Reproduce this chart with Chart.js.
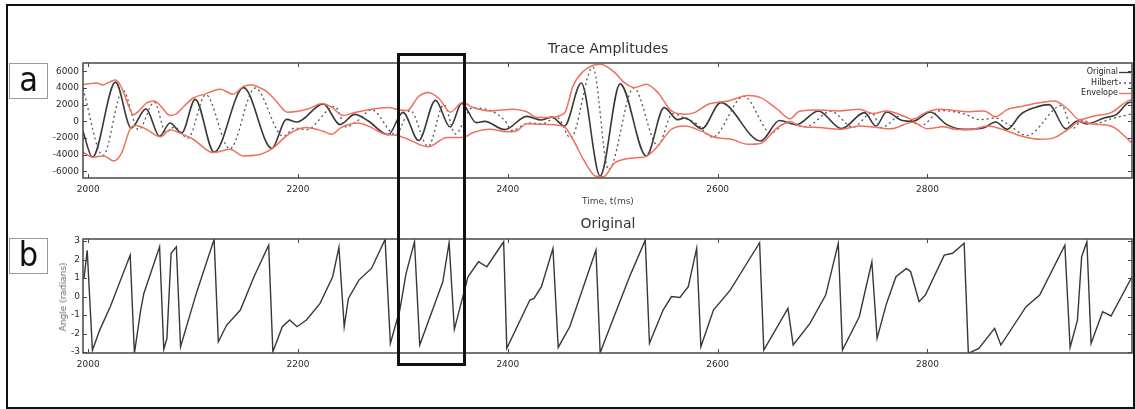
<!DOCTYPE html>
<html><head><meta charset="utf-8">
<script src="https://cdn.jsdelivr.net/npm/chart.js@4.4.1/dist/chart.umd.min.js"></script>
<style>
html,body{margin:0;padding:0;background:#fff;}
#wrap{position:relative;width:1135px;height:409px;overflow:hidden;background:#fff;font-family:"DejaVu Sans",sans-serif;}
canvas{position:absolute;left:0;}
.frame{position:absolute;left:6px;top:4px;width:1129px;height:405px;border:2px solid #111;box-sizing:border-box;z-index:5;pointer-events:none;}
.hl{position:absolute;left:397px;top:53px;width:69px;height:313px;border:3px solid #111;box-sizing:border-box;z-index:6;}
.lab{position:absolute;left:9px;width:39px;height:36px;border:1px solid #999;box-sizing:border-box;background:#fff;
 font-family:"Liberation Sans Narrow","DejaVu Sans Condensed","Liberation Sans",sans-serif;font-size:34px;line-height:30px;text-align:center;color:#111;z-index:4;}
.t{position:absolute;white-space:nowrap;color:#333;transform:translate(-50%,-50%);z-index:3;}
</style></head>
<body><div id="wrap">
<canvas id="c1" width="1135" height="215" style="top:0"></canvas>
<canvas id="c2" width="1135" height="194" style="top:215px"></canvas>
<div class="frame"></div>
<div class="hl"></div>
<div class="lab" style="top:63px">a</div>
<div class="lab" style="top:238px">b</div>
<div class="t" style="left:608px;top:48px;font-size:14px;">Trace Amplitudes</div>
<div class="t" style="left:608px;top:201px;font-size:9px;color:#444;">Time, t(ms)</div>
<div class="t" style="left:608px;top:223px;font-size:14px;">Original</div>
<div class="t" style="left:63px;top:297px;font-size:9px;color:#666;transform:translate(-50%,-50%) rotate(-90deg);">Angle (radians)</div>
</div>
<script>
// ---- data (time ms, value) ----
const xTicks = [2000, 2200, 2400, 2600, 2800];
const ampTicks = [-6000, -4000, -2000, 0, 2000, 4000, 6000];
const angTicks = [-3, -2, -1, 0, 1, 2, 3];

const original = [[1995,-1200],[2004,-4300],[2026,4700],[2041,-800],[2055,1500],[2068,-1800],[2078,-200],[2089,-1400],[2102,2640],[2120,-3700],
[2148,4040],[2175,-3240],[2189,240],[2199,-80],[2224,2100],[2240,-400],[2254,840],[2267,40],[2286,-1600],[2300,1080],
[2315,-2300],[2331,2520],[2345,-680],[2356,2160],[2370,-160],[2378,0],[2397,-1000],[2418,600],[2432,160],[2442,500],
[2454,-560],[2470,4600],[2488,-6560],[2507,4500],[2532,-4160],[2549,1640],[2562,200],[2569,400],[2585,-880],[2603,2240],
[2641,-2360],[2659,100],[2675,-400],[2696,1240],[2718,-880],[2740,1040],[2751,-560],[2761,1120],[2776,100],[2786,0],
[2803,1120],[2818,-360],[2835,-960],[2854,-760],[2865,-80],[2876,-960],[2889,840],[2902,1640],[2916,2000],[2932,-900],
[2943,40],[2952,-300],[2969,440],[2980,800],[2991,2200],[2995,2300]];

const hilbert = [[1995,3900],[2014,-4100],[2033,3700],[2048,-1000],[2063,2300],[2074,-1300],[2082,-700],[2095,-2000],[2112,3200],[2135,-3300],
[2159,4000],[2186,-1800],[2197,-800],[2208,-1000],[2235,1800],[2246,-700],[2258,200],[2270,1400],[2293,-1600],[2307,1300],
[2324,-3000],[2339,2000],[2350,-1500],[2366,1600],[2385,1200],[2397,100],[2404,-1100],[2420,-200],[2432,-300],[2447,450],
[2460,-2000],[2481,6500],[2496,-5800],[2520,4000],[2543,-2900],[2557,900],[2570,300],[2580,-300],[2595,-1900],[2625,3000],
[2651,-1400],[2665,-200],[2684,-650],[2708,1200],[2729,-700],[2747,1000],[2756,-750],[2775,700],[2794,-500],[2813,1300],
[2835,900],[2850,200],[2865,400],[2876,-300],[2895,-1700],[2928,1900],[2938,-900],[2948,100],[2958,-330],[2975,300],[2995,900]];

const envelopeUpper = [[1995,4400],[2000,4500],[2008,4600],[2014,4350],[2020,4700],[2026,4950],[2032,4000],[2038,2000],[2043,800],[2048,1200],
[2056,2250],[2063,2450],[2070,1700],[2078,700],[2084,900],[2092,1900],[2100,2800],[2112,3300],[2120,3700],[2126,3850],
[2138,3250],[2148,4200],[2156,4400],[2162,4100],[2170,3600],[2178,2600],[2190,1100],[2200,1200],[2210,1500],[2223,2150],
[2232,1700],[2243,700],[2254,1050],[2270,1450],[2286,1650],[2296,1400],[2304,1300],[2315,3000],[2324,3450],[2335,2650],
[2345,1100],[2357,2250],[2367,1650],[2383,1250],[2405,1450],[2418,1150],[2427,500],[2440,450],[2450,700],[2455,1200],
[2462,4200],[2472,6000],[2481,6700],[2489,6850],[2495,6500],[2502,5850],[2511,4650],[2521,4050],[2532,4450],[2543,3450],
[2556,1250],[2569,850],[2578,1050],[2591,2050],[2610,2450],[2629,3100],[2641,2850],[2657,1450],[2669,300],[2678,1200],
[2696,1350],[2716,1250],[2735,1450],[2748,950],[2761,1250],[2777,650],[2786,250],[2799,1100],[2811,1450],[2830,1250],
[2840,1150],[2854,1250],[2865,550],[2876,1400],[2892,1850],[2908,2250],[2921,2450],[2934,1450],[2945,200],[2959,650],
[2975,1050],[2991,2450],[2995,2600]];

const envelopeLower = [[1995,-3700],[2004,-4300],[2015,-4150],[2024,-4750],[2032,-3750],[2040,-900],[2046,-500],[2056,-1000],[2069,-1850],[2078,-1000],
[2088,-1450],[2100,-2150],[2119,-3750],[2135,-3350],[2148,-4150],[2161,-4050],[2175,-3300],[2191,-1550],[2207,-750],[2223,-1150],
[2232,-1550],[2241,-750],[2257,-200],[2270,-750],[2283,-1550],[2292,-1650],[2305,-2150],[2315,-2750],[2324,-3050],[2342,-1950],
[2357,-1950],[2367,-1350],[2383,-950],[2399,-1250],[2408,-1150],[2418,-300],[2430,-350],[2453,-600],[2462,-2150],[2472,-4550],
[2484,-6600],[2491,-6650],[2502,-4950],[2511,-4550],[2524,-4350],[2532,-4200],[2543,-2950],[2556,-950],[2569,-550],[2584,-1150],
[2597,-1900],[2613,-2150],[2629,-2750],[2641,-2650],[2657,-750],[2669,-50],[2678,-550],[2697,-750],[2718,-950],[2735,-550],
[2750,-700],[2765,-900],[2786,-100],[2800,-900],[2815,-650],[2826,-950],[2842,-1000],[2857,-550],[2876,-1150],[2889,-1750],
[2908,-2150],[2921,-1950],[2934,-950],[2945,-50],[2959,-350],[2975,-550],[2995,-2600]];

const phase = [[1996,1.0],[1999,2.5],[2004,-2.9],[2011,-1.8],[2021,-0.55],[2040,2.24],[2044,-3.07],[2050,-0.73],[2053,0.17],[2068,2.69],
[2072,-2.85],[2075,-2.26],[2079,2.34],[2084,2.69],[2088,-2.71],[2103,0.17],[2120,3.09],[2124,-2.44],[2132,-1.54],[2145,-0.73],
[2158,1.07],[2172,2.78],[2176,-2.98],[2185,-1.63],[2192,-1.27],[2199,-1.63],[2208,-1.27],[2221,-0.37],[2233,1.07],[2239,2.66],
[2244,-1.63],[2248,-0.1],[2258,0.89],[2270,1.52],[2283,3.09],[2288,-2.53],[2297,-0.73],[2303,1.25],[2311,2.96],[2316,-2.62],
[2338,0.8],[2344,2.91],[2349,-1.77],[2362,1.07],[2372,1.88],[2380,1.61],[2396,2.96],[2399,-2.8],[2421,-0.19],[2425,-0.1],
[2432,0.53],[2443,2.6],[2448,-2.75],[2459,-1.63],[2484,2.51],[2488,-3.04],[2500,-1.27],[2516,1.07],[2531,3.05],[2535,-2.53],
[2548,-0.73],[2556,0],[2564,-0.05],[2572,0.53],[2580,2.6],[2584,-2.71],[2596,-0.73],[2612,0.35],[2640,2.91],[2644,-2.89],
[2667,-0.64],[2672,-2.62],[2688,-1.45],[2703,0.08],[2715,2.87],[2719,-2.89],[2735,-1.09],[2747,1.88],[2752,-2.26],[2761,-0.37],
[2770,1.07],[2780,1.52],[2784,1.34],[2792,-0.28],[2798,0.08],[2816,2.24],[2824,2.34],[2835,2.88],[2839,-3.07],[2849,-2.8],
[2864,-1.72],[2870,-2.62],[2894,-0.55],[2907,0.08],[2931,2.78],[2936,-2.75],[2943,-1.27],[2947,2.15],[2952,2.96],[2956,-2.53],
[2967,-0.82],[2975,-1.05],[2995,1.07]];

const legendItems = ['Original', 'Hilbert', 'Envelope'];

// ---- helpers ----
const pts = arr => arr.map(p => ({x: p[0], y: p[1]}));
const C_ORIG = '#383838', C_HIL = '#555', C_ENV = '#f0705e';

const framePlugin = {
  id: 'frameTicks',
  afterDraw(chart) {
    const {ctx, chartArea: a, scales} = chart;
    ctx.save();
    ctx.strokeStyle = '#474747';
    ctx.lineWidth = 1.5;
    ctx.strokeRect(a.left, a.top, a.right - a.left, a.bottom - a.top);
    ctx.lineWidth = 1;
    const L = 4;
    ctx.beginPath();
    scales.x.ticks.forEach(t => {
      const p = Math.round(scales.x.getPixelForValue(t.value)) + 0.5;
      ctx.moveTo(p, a.bottom); ctx.lineTo(p, a.bottom - L);
      ctx.moveTo(p, a.top); ctx.lineTo(p, a.top + L);
    });
    scales.y.ticks.forEach(t => {
      const p = Math.round(scales.y.getPixelForValue(t.value)) + 0.5;
      ctx.moveTo(a.left, p); ctx.lineTo(a.left + L, p);
      ctx.moveTo(a.right, p); ctx.lineTo(a.right - L, p);
    });
    ctx.stroke();
    ctx.restore();
  }
};

const legendPlugin = {
  id: 'cornerLegend',
  afterDraw(chart, args, opts) {
    if (!opts.items) return;
    const {ctx, chartArea: a} = chart;
    ctx.save();
    ctx.font = '8px "DejaVu Sans", sans-serif';
    ctx.textAlign = 'right';
    ctx.textBaseline = 'middle';
    const styles = [
      {c: C_ORIG, d: []},
      {c: C_HIL, d: [2, 3]},
      {c: C_ENV, d: []}
    ];
    opts.items.forEach((name, i) => {
      const y = a.top + 9 + i * 10.5;
      const xr = a.right - 14;
      ctx.fillStyle = '#222';
      ctx.fillText(name, xr, y);
      ctx.strokeStyle = styles[i].c;
      ctx.setLineDash(styles[i].d);
      ctx.lineWidth = 1.3;
      ctx.beginPath();
      ctx.moveTo(xr + 1, y + 0.5); ctx.lineTo(a.right - 1, y + 0.5);
      ctx.stroke();
    });
    ctx.restore();
  }
};

const tickFont = {family: '"DejaVu Sans", sans-serif', size: 9};
const plain = v => String(v);

function xScale() {
  return {
    type: 'linear', min: 1995, max: 2995,
    grid: {display: false, drawTicks: false},
    border: {display: false},
    ticks: {font: tickFont, color: '#2a2a2a', padding: 6, maxRotation: 0, callback: plain},
    afterBuildTicks: s => { s.ticks = xTicks.map(v => ({value: v})); },
    afterFit: null
  };
}

// ---- chart a ----
const xa = xScale();
xa.afterFit = s => { s.height = 37; };
new Chart(document.getElementById('c1'), {
  type: 'line',
  data: {
    datasets: [
      {label: 'Envelope', data: pts(envelopeUpper), borderColor: C_ENV, borderWidth: 1.5, cubicInterpolationMode: 'monotone', pointRadius: 0},
      {label: 'Envelope lower', data: pts(envelopeLower), borderColor: C_ENV, borderWidth: 1.5, cubicInterpolationMode: 'monotone', pointRadius: 0},
      {label: 'Hilbert', data: pts(hilbert), borderColor: C_HIL, borderWidth: 1.3, borderDash: [2, 3], cubicInterpolationMode: 'monotone', pointRadius: 0},
      {label: 'Original', data: pts(original), borderColor: C_ORIG, borderWidth: 1.6, cubicInterpolationMode: 'monotone', pointRadius: 0}
    ]
  },
  options: {
    responsive: false, animation: false, devicePixelRatio: 1,
    layout: {padding: {top: 63, left: 0, right: 3, bottom: 0}},
    plugins: {legend: {display: false}, tooltip: {enabled: false}, title: {display: false},
      cornerLegend: {items: legendItems}},
    scales: {
      x: xa,
      y: {
        min: -6800, max: 7000,
        grid: {display: false, drawTicks: false}, border: {display: false},
        ticks: {font: tickFont, color: '#2a2a2a', padding: 4, callback: plain},
        afterBuildTicks: s => { s.ticks = ampTicks.map(v => ({value: v})); },
        afterFit: s => { s.width = 83; }
      }
    }
  },
  plugins: [framePlugin, legendPlugin]
});

// ---- chart b ----
const xb = xScale();
xb.afterFit = s => { s.height = 56; };
new Chart(document.getElementById('c2'), {
  type: 'line',
  data: {
    datasets: [
      {label: 'Original', data: pts(phase), borderColor: C_ORIG, borderWidth: 1.4, tension: 0, pointRadius: 0}
    ]
  },
  options: {
    responsive: false, animation: false, devicePixelRatio: 1,
    layout: {padding: {top: 24, left: 0, right: 3, bottom: 0}},
    plugins: {legend: {display: false}, tooltip: {enabled: false}, title: {display: false}},
    scales: {
      x: xb,
      y: {
        min: -3.05, max: 3.11,
        grid: {display: false, drawTicks: false}, border: {display: false},
        ticks: {font: tickFont, color: '#2a2a2a', padding: 3, callback: plain},
        afterBuildTicks: s => { s.ticks = angTicks.map(v => ({value: v})); },
        afterFit: s => { s.width = 83; }
      }
    }
  },
  plugins: [framePlugin]
});
</script>
</body></html>
